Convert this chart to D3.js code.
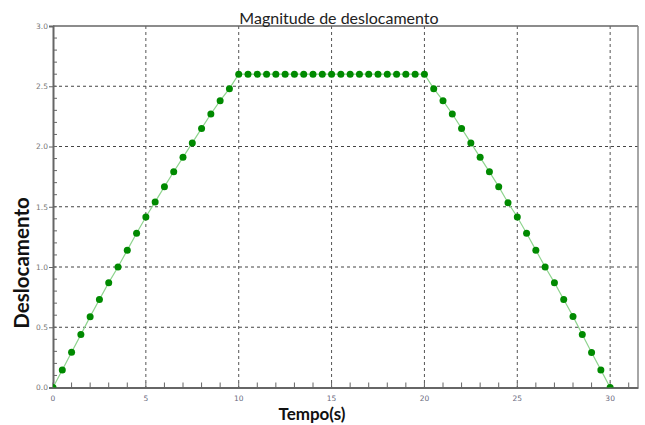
<!DOCTYPE html>
<html>
<head>
<meta charset="utf-8">
<script src="https://cdn.jsdelivr.net/npm/d3@7"></script>
<style>
  html, body { margin: 0; padding: 0; background: #fff; }
  svg { display: block; }
</style>
</head>
<body>
<svg id="chart" width="645" height="425"></svg>
<script>
const chartTitle = "Magnitude de deslocamento";
const xLabel = "Tempo(s)";
const yLabel = "Deslocamento";

const time = [
  0, 0.5, 1, 1.5, 2, 2.5, 3, 3.5, 4, 4.5, 5, 5.5, 6, 6.5, 7, 7.5, 8, 8.5, 9, 9.5, 10,
  10.5, 11, 11.5, 12, 12.5, 13, 13.5, 14, 14.5, 15, 15.5, 16, 16.5, 17, 17.5, 18, 18.5, 19, 19.5, 20,
  20.5, 21, 21.5, 22, 22.5, 23, 23.5, 24, 24.5, 25, 25.5, 26, 26.5, 27, 27.5, 28, 28.5, 29, 29.5, 30
];
const displacement = [
  0, 0.146, 0.293, 0.439, 0.588, 0.73, 0.87, 1.0, 1.14, 1.28, 1.415, 1.54, 1.667, 1.79, 1.91, 2.03, 2.15, 2.27, 2.38, 2.48, 2.6,
  2.6, 2.6, 2.6, 2.6, 2.6, 2.6, 2.6, 2.6, 2.6, 2.6, 2.6, 2.6, 2.6, 2.6, 2.6, 2.6, 2.6, 2.6, 2.6, 2.6,
  2.48, 2.38, 2.27, 2.15, 2.03, 1.91, 1.79, 1.667, 1.533, 1.415, 1.28, 1.14, 1.0, 0.87, 0.73, 0.59, 0.44, 0.29, 0.146, 0
];
const xTickLabels = [0, 5, 10, 15, 20, 25, 30];
const yTickLabels = [0, 0.5, 1.0, 1.5, 2.0, 2.5, 3.0];

(function () {
const svg = d3.select("#chart");
const pl = 53, pr = 638, pt = 26, pb = 387.5;

const x = d3.scaleLinear().domain([0, 31.5]).range([pl, pr]);
const y = d3.scaleLinear().domain([0, 3]).range([pb, pt]);

svg.append("defs").append("clipPath").attr("id", "plotclip")
  .append("rect").attr("x", pl).attr("y", pt).attr("width", pr - pl).attr("height", pb - pt);

// grid
const grid = svg.append("g");
grid.selectAll(".hg").data(yTickLabels.filter(v => v > 0 && v < 3)).join("line")
  .attr("x1", pl).attr("x2", pr)
  .attr("y1", d => y(d)).attr("y2", d => y(d))
  .attr("stroke", "#444").attr("stroke-width", 1).attr("stroke-dasharray", "3,3");
grid.selectAll(".vg").data(xTickLabels.filter(v => v > 0)).join("line")
  .attr("x1", d => x(d)).attr("x2", d => x(d))
  .attr("y1", pt).attr("y2", pb)
  .attr("stroke", "#555").attr("stroke-width", 1).attr("stroke-dasharray", "3,3");

// frame top/right
svg.append("line").attr("x1", pl).attr("x2", pr).attr("y1", pt).attr("y2", pt)
  .attr("stroke", "#666").attr("stroke-width", 1.5);
svg.append("line").attr("x1", pr).attr("x2", pr).attr("y1", pt).attr("y2", pb)
  .attr("stroke", "#888").attr("stroke-width", 1.5);

// x axis
const xMinor = d3.range(0, 32, 1);
const xAxis = d3.axisBottom(x).tickValues(xMinor).tickSize(0).tickFormat("");
svg.append("g").attr("transform", `translate(0,${pb})`).call(xAxis)
  .call(g => g.select(".domain").attr("stroke", "#666").attr("stroke-width", 2));
svg.append("g").selectAll("line").data(xMinor).join("line")
  .attr("x1", d => x(d)).attr("x2", d => x(d))
  .attr("y1", pb).attr("y2", pb - 5)
  .attr("stroke", "#666").attr("stroke-width", 1);
svg.append("g").selectAll("text").data(xTickLabels).join("text")
  .attr("x", d => x(d)).attr("y", 401)
  .attr("text-anchor", "middle")
  .attr("font-family", "DejaVu Sans, sans-serif").attr("font-size", 7.5)
  .attr("fill", "#6a6a80")
  .text(d => d);

// y axis
const yMinor = d3.range(0, 30, 1).map(i => i / 10);
const yAxis = d3.axisLeft(y).tickValues(yTickLabels).tickSize(4).tickFormat(d3.format(".1f"));
svg.append("g").attr("transform", `translate(${pl},0)`).call(yAxis)
  .call(g => g.select(".domain").attr("stroke", "#666").attr("stroke-width", 2))
  .call(g => g.selectAll(".tick line").attr("stroke", "#666"))
  .call(g => g.selectAll(".tick text")
    .attr("font-family", "DejaVu Sans, sans-serif").attr("font-size", 7.5)
    .attr("fill", "#777").attr("x", -5));
svg.append("g").selectAll("line").data(yMinor).join("line")
  .attr("x1", pl).attr("x2", pl + 4)
  .attr("y1", d => y(d)).attr("y2", d => y(d))
  .attr("stroke", "#666").attr("stroke-width", 1);

// data
const pts = time.map((t, i) => [t, displacement[i]]);
const plot = svg.append("g").attr("clip-path", "url(#plotclip)");
plot.append("path").datum(pts)
  .attr("fill", "none").attr("stroke", "#8fd48f").attr("stroke-width", 1.2)
  .attr("d", d3.line().x(d => x(d[0])).y(d => y(d[1])));
plot.selectAll("circle").data(pts).join("circle")
  .attr("cx", d => x(d[0])).attr("cy", d => y(d[1])).attr("r", 3.5)
  .attr("fill", "#008a00");

// title and labels
svg.append("text").attr("x", 339).attr("y", 24)
  .attr("text-anchor", "middle")
  .attr("font-family", "Lato, 'Open Sans', sans-serif").attr("font-size", 16)
  .attr("fill", "#222").text(chartTitle);
svg.append("text").attr("x", 312).attr("y", 420)
  .attr("text-anchor", "middle")
  .attr("font-family", "Lato, 'Open Sans', sans-serif").attr("font-weight", "bold").attr("font-size", 17)
  .attr("fill", "#111").text(xLabel);
svg.append("text")
  .attr("transform", "translate(29,263) rotate(-90)")
  .attr("text-anchor", "middle")
  .attr("font-family", "Lato, 'Open Sans', sans-serif").attr("font-weight", "bold").attr("font-size", 20.5)
  .attr("fill", "#111").text(yLabel);
})();
</script>
</body>
</html>
